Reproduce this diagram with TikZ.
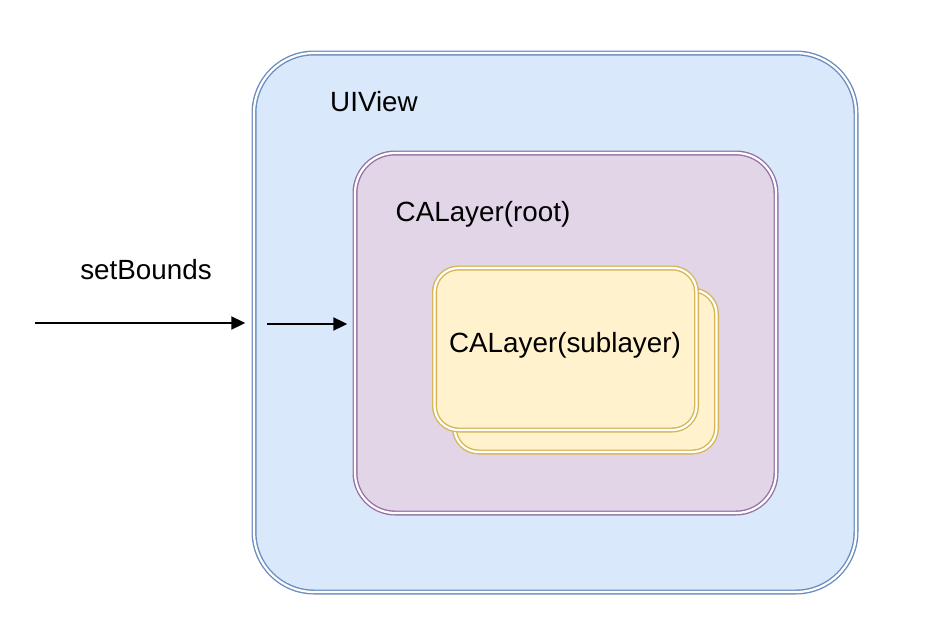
\documentclass[tikz,border=0pt]{standalone}
\usepackage{fontspec}
\setmainfont{Liberation Sans}
\usetikzlibrary{arrows.meta,calc}
\definecolor{viewfill}{HTML}{DAE8FC}
\definecolor{viewline}{HTML}{6C8EBF}
\definecolor{rootfill}{HTML}{E1D5E7}
\definecolor{rootline}{HTML}{9673A6}
\definecolor{subfill}{HTML}{FFF2CC}
\definecolor{subline}{HTML}{D6B656}
\tikzset{
  dbl/.style={line width=0.7pt, double distance=1.1pt},
  viewbox/.style={dbl, draw=viewline, double=white, fill=viewfill, rounded corners=30pt, minimum width=301pt, minimum height=269.5pt, inner sep=0pt},
  rootbox/.style={dbl, draw=rootline, double=white, fill=rootfill, rounded corners=20pt, minimum width=210.5pt, minimum height=180pt, inner sep=0pt},
  subbox/.style={dbl, draw=subline, double=white, fill=subfill, rounded corners=12pt, minimum width=131pt, minimum height=81pt, inner sep=0pt},
  lbl/.style={font=\fontsize{13.9pt}{16pt}\selectfont, inner sep=0pt},
  arr/.style={line width=1pt, -{Triangle[length=7pt,width=6.5pt]}}
}
\begin{document}
\begin{tikzpicture}[x=0.5pt,y=-0.5pt]
\useasboundingbox (0,0) rectangle (944,622);
\node[viewbox] (view) at (555,322.5) {};
\node[lbl] (viewlbl) at (374,102) {UIView};
\node[rootbox] (root) at (565.5,333) {};
\node[lbl] (rootlbl) at (483,214) {CALayer(root)};
\node[subbox] (subback) at (585.5,371) {};
\node[subbox] (subfront) at (565.5,349) {};
\node[lbl] (sublbl) at (565,345) {CALayer(sublayer)};
\node[lbl] (setlbl) at (146,270) {setBounds};
\coordinate (a1) at (35,323);
\coordinate (a2) at (267,324);
\draw[arr] (a1) -- ($(view.west |- a1)+(-8,0)$);
\draw[arr] (a2) -- ($(root.west |- a2)+(-7,0)$);
\end{tikzpicture}
\end{document}
